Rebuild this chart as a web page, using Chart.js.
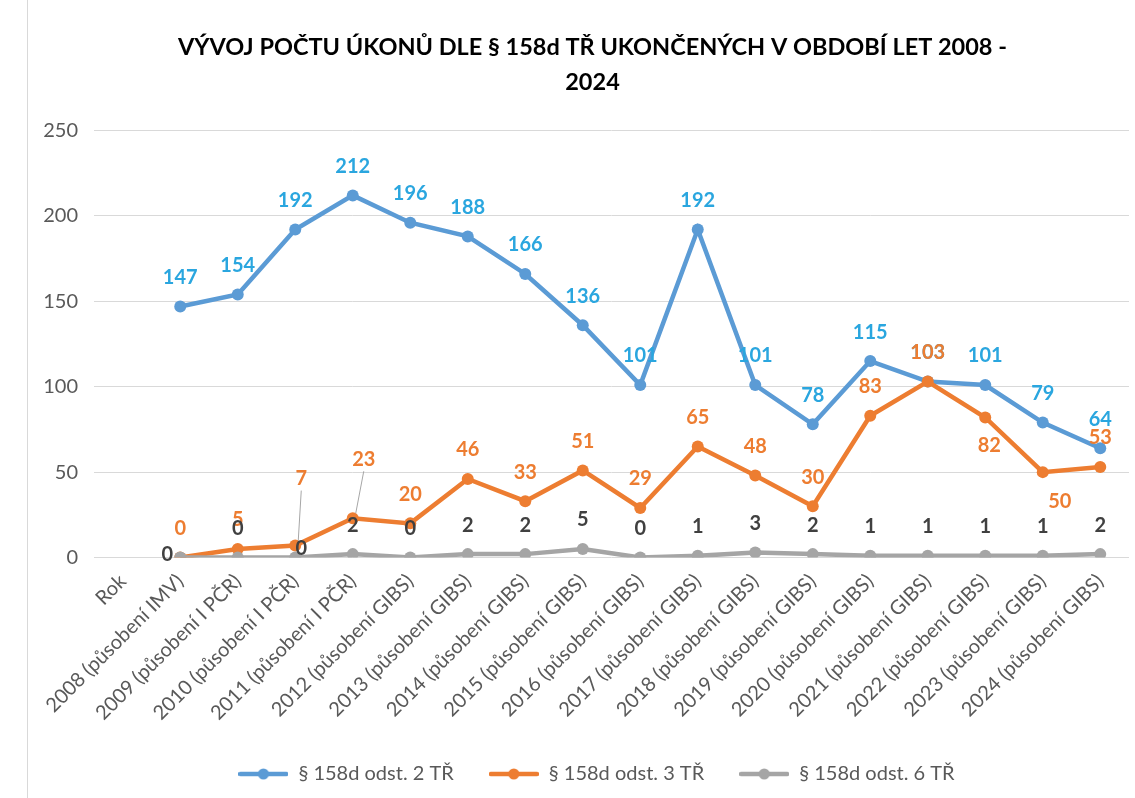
<!DOCTYPE html>
<html>
<head>
<meta charset="utf-8">
<script src="https://cdn.jsdelivr.net/npm/chart.js@4.4.1/dist/chart.umd.min.js"></script>
<style>
  html, body { margin: 0; padding: 0; background: #fff; }
  #wrap { position: relative; width: 1135px; height: 798px; }
  #wrap:before { content: ""; position: absolute; left: 27px; top: 0; bottom: 0; border-left: 1px solid #d9d9d9; }
</style>
</head>
<body>
<div id="wrap"><canvas id="myChart" width="1135" height="798"></canvas></div>
<script>
var categories = ['Rok', '2008 (působení IMV)', '2009 (působení I PČR)', '2010 (působení I PČR)', '2011 (působení I PČR)',
    '2012 (působení GIBS)', '2013 (působení GIBS)', '2014 (působení GIBS)', '2015 (působení GIBS)', '2016 (působení GIBS)',
    '2017 (působení GIBS)', '2018 (působení GIBS)', '2019 (působení GIBS)', '2020 (působení GIBS)', '2021 (působení GIBS)',
    '2022 (působení GIBS)', '2023 (působení GIBS)', '2024 (působení GIBS)'];
var odst2 = [null, 147, 154, 192, 212, 196, 188, 166, 136, 101, 192, 101, 78, 115, 103, 101, 79, 64];
var odst3 = [null, 0, 5, 7, 23, 20, 46, 33, 51, 29, 65, 48, 30, 83, 103, 82, 50, 53];
var odst6 = [null, 0, 0, 0, 2, 0, 2, 2, 5, 0, 1, 3, 2, 1, 1, 1, 1, 2];
var yTicks = [0, 50, 100, 150, 200, 250];

// posun popisků [dx, dy] od bodu
var shift2 = {};
var shift3 = { 3: [6, -67, true], 4: [11, -59, true], 15: [4, 28], 16: [17, 29] };
var shift6 = { 1: [-13, -3], 3: [6, -9] };

var fontName = 'Lato, "Open Sans", sans-serif';

function legendIcon(color) {
    var c = document.createElement('canvas');
    c.width = 50; c.height = 14;
    var g = c.getContext('2d');
    g.strokeStyle = color; g.lineWidth = 4.5; g.lineCap = 'round';
    g.beginPath(); g.moveTo(2, 7); g.lineTo(48, 7); g.stroke();
    g.fillStyle = color;
    g.beginPath(); g.arc(25, 7, 5.5, 0, Math.PI * 2); g.fill();
    return c;
}

var pointLabels = {
    id: 'pointLabels',
    afterDatasetsDraw: function (chart) {
        var ctx = chart.ctx;
        var cfg = [
            { i: 0, color: '#2aa6df', shift: shift2 },
            { i: 1, color: '#ed7d31', shift: shift3 },
            { i: 2, color: '#404040', shift: shift6 }
        ];
        ctx.save();
        ctx.font = 'bold 20px ' + fontName;
        ctx.textAlign = 'center';
        ctx.textBaseline = 'middle';
        cfg.forEach(function (c) {
            var meta = chart.getDatasetMeta(c.i);
            var data = chart.data.datasets[c.i].data;
            meta.data.forEach(function (pt, k) {
                if (data[k] === null) return;
                var s = c.shift[k] || [0, -29];
                var x = pt.x + s[0], y = pt.y + s[1];
                if (s[2]) {
                    ctx.strokeStyle = '#a6a6a6';
                    ctx.lineWidth = 1;
                    ctx.beginPath();
                    ctx.moveTo(x, y + 12);
                    ctx.lineTo(pt.x + 3, pt.y - 5);
                    ctx.stroke();
                }
                ctx.fillStyle = c.color;
                ctx.fillText(String(data[k]), x, y);
            });
        });
        ctx.restore();
    }
};

// posune nadpis a legendu trochu doprava jako v originále
var nudge = {
    id: 'nudge',
    afterLayout: function (chart) {
        if (chart.titleBlock) { chart.titleBlock.left += 10; chart.titleBlock.right += 10; }
        if (chart.legend) { chart.legend.left += 14; chart.legend.right += 14; }
    }
};

var ctx = document.getElementById('myChart');
var myChart = new Chart(ctx, {
    type: 'line',
    data: {
        labels: categories,
        datasets: [{
            label: '§ 158d odst. 2 TŘ',
            data: odst2,
            borderColor: '#5b9bd5',
            backgroundColor: '#5b9bd5',
            order: 3
        }, {
            label: '§ 158d odst. 3 TŘ',
            data: odst3,
            borderColor: '#ed7d31',
            backgroundColor: '#ed7d31',
            order: 2
        }, {
            label: '§ 158d odst. 6 TŘ',
            data: odst6,
            borderColor: '#a5a5a5',
            backgroundColor: '#a5a5a5',
            order: 1
        }]
    },
    options: {
        responsive: false,
        animation: false,
        layout: { padding: { left: 31, right: 1, top: 30, bottom: 4 } },
        elements: {
            line: { borderWidth: 4.5, tension: 0 },
            point: { radius: 6, borderWidth: 0, hoverRadius: 6 }
        },
        plugins: {
            tooltip: { enabled: false },
            title: {
                display: true,
                text: ['VÝVOJ POČTU ÚKONŮ DLE § 158d TŘ UKONČENÝCH V OBDOBÍ LET 2008 -', '2024'],
                color: '#000',
                font: { family: fontName, size: 23.5, weight: 'bold', lineHeight: 1.5 },
                padding: { top: 0, bottom: 30 }
            },
            legend: {
                position: 'bottom',
                labels: {
                    color: '#595959',
                    font: { family: fontName, size: 20 },
                    usePointStyle: true,
                    pointStyleWidth: 50,
                    padding: 35,
                    generateLabels: function (chart) {
                        return chart.data.datasets.map(function (ds, i) {
                            return {
                                text: ds.label,
                                fillStyle: ds.borderColor,
                                strokeStyle: ds.borderColor,
                                pointStyle: legendIcon(ds.borderColor),
                                fontColor: '#595959',
                                lineWidth: 0,
                                hidden: false,
                                datasetIndex: i
                            };
                        });
                    }
                }
            }
        },
        scales: {
            x: {
                offset: true,
                grid: { display: false },
                border: { display: false },
                ticks: {
                    color: '#595959',
                    font: { family: fontName, size: 20 },
                    minRotation: 45,
                    maxRotation: 45,
                    autoSkip: false,
                    padding: 4
                }
            },
            y: {
                min: 0,
                max: 250,
                afterBuildTicks: function (axis) {
                    axis.ticks = yTicks.map(function (v) { return { value: v }; });
                },
                afterFit: function (axis) { axis.width = 63; },
                grid: { color: '#d9d9d9', lineWidth: 1, drawTicks: false },
                border: { display: false },
                ticks: {
                    color: '#595959',
                    font: { family: fontName, size: 20 },
                    padding: 16
                }
            }
        }
    },
    plugins: [pointLabels, nudge]
});
</script>
</body>
</html>
